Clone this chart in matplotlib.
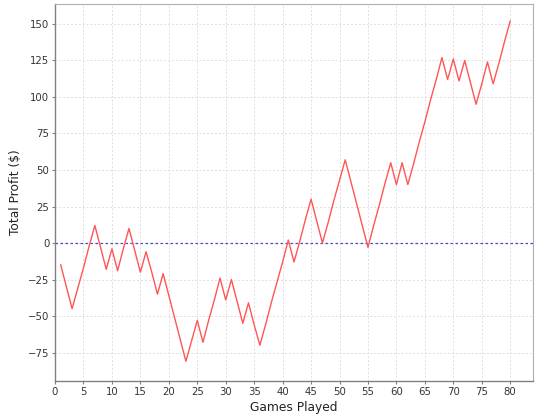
import matplotlib
matplotlib.use("Agg")
import matplotlib.pyplot as plt

# cumulative profit after each game
games = list(range(1, 81))
profit = [
    -15, -30, -45, -31, -17, -2, 12, -3, -18, -4,
    -19, -4, 10, -5, -20, -6, -20, -35, -21, -36,
    -51, -66, -81, -67, -53, -68, -53, -39, -24, -39,
    -25, -40, -55, -41, -56, -70, -56, -41, -27, -13,
    2, -13, 1, 16, 30, 15, 0, 14, 29, 43,
    57, 42, 27, 12, -3, 12, 26, 41, 55, 40,
    55, 40, 54, 69, 83, 98, 112, 127, 112, 126,
    111, 125, 110, 95, 109, 124, 109, 123, 138, 152,
]
x_ticks = list(range(0, 85, 5))
y_ticks = list(range(-75, 175, 25))

fig = plt.figure(figsize=(5.4, 4.2), dpi=100)
ax = fig.add_axes([0.1019, 0.0929, 0.8851, 0.8976])

ax.grid(True, color="#dedede", linestyle=(0, (2, 2)), linewidth=0.7)
ax.set_axisbelow(True)
ax.axhline(0, color="#4a4ac8", linestyle=(0, (2, 2)), linewidth=0.9, zorder=2)
ax.plot(games, profit, color="#ff5555", linewidth=1.0, zorder=3)

ax.set_xlim(0, 84)
ax.set_ylim(-94.5, 163.7)
ax.set_xticks(x_ticks)
ax.set_yticks(y_ticks)

for side in ["top", "right"]:
    ax.spines[side].set_color("#b0b0b0")
    ax.spines[side].set_linewidth(0.8)
for side in ["left", "bottom"]:
    ax.spines[side].set_color("#808080")
    ax.spines[side].set_linewidth(1.0)

ax.tick_params(axis="both", direction="out", length=2, width=0.8, color="#808080",
               labelsize=7.3, labelcolor="#333333", pad=2)

ax.set_xlabel("Games Played", fontsize=8.8, color="#222222", labelpad=3)
ax.set_ylabel("Total Profit ($)", fontsize=8.8, color="#222222", labelpad=4)

fig.savefig("out.png", dpi=100)
